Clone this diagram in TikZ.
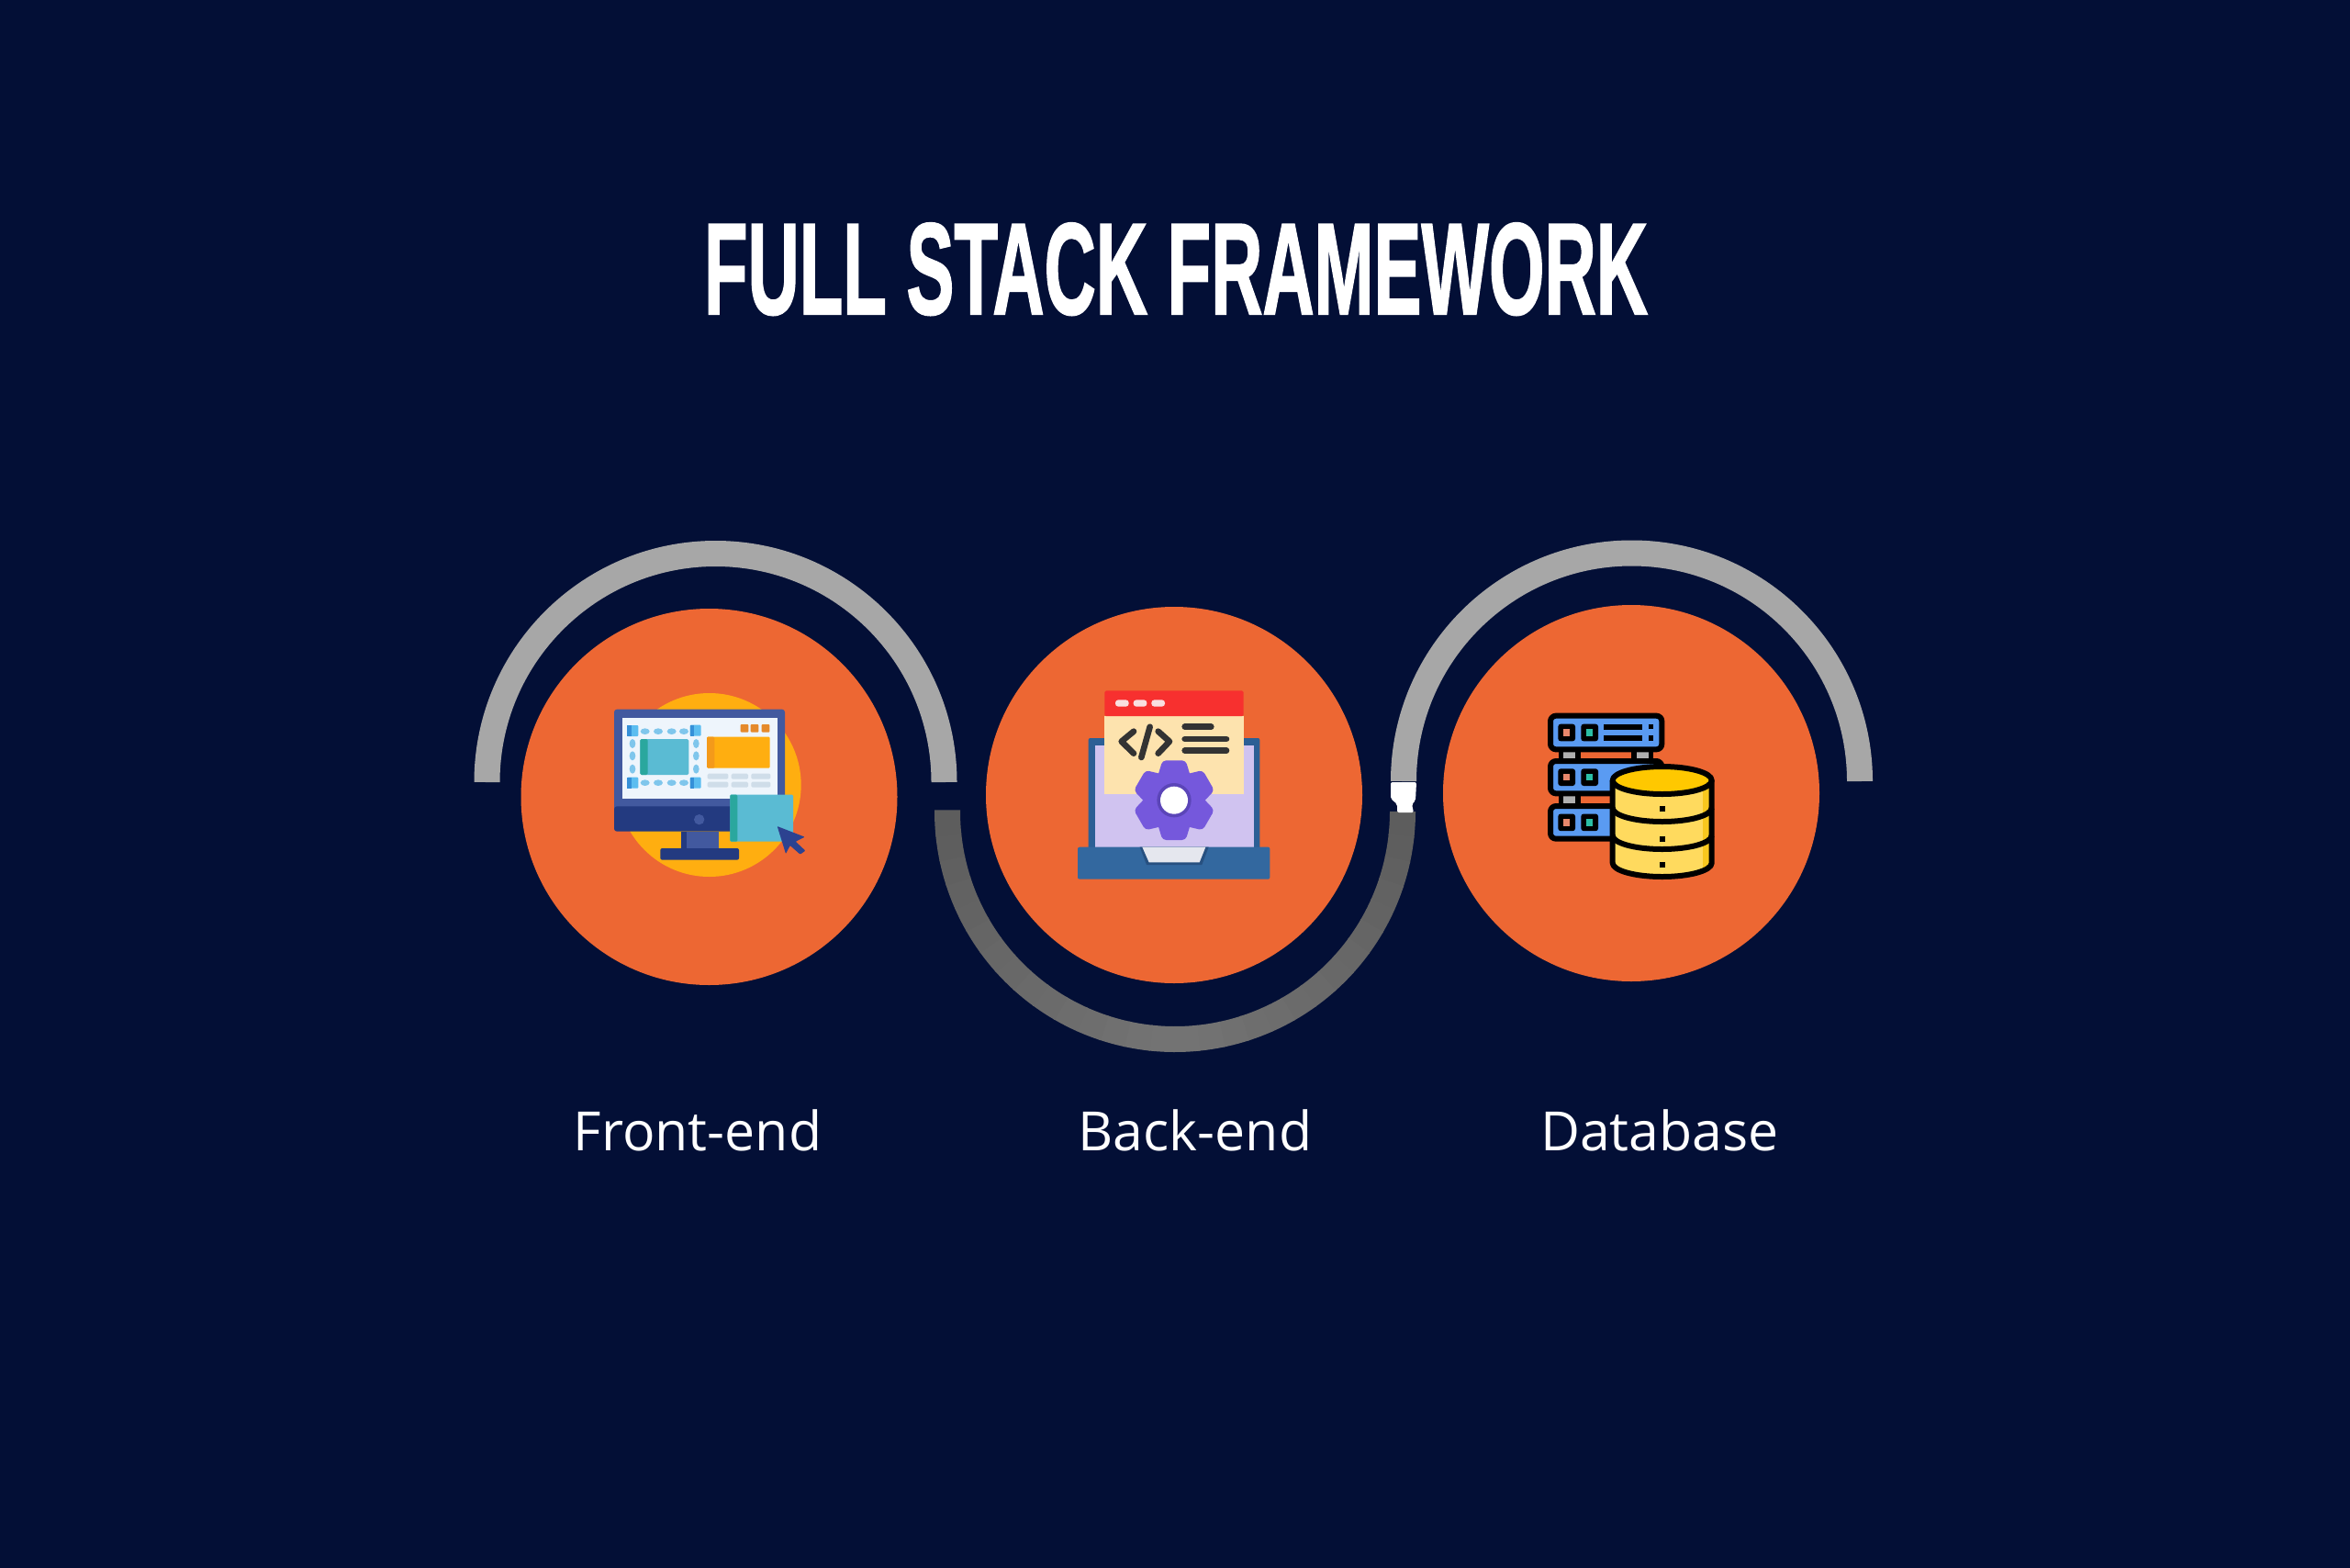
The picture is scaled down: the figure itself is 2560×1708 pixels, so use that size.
\documentclass[tikz,border=0pt]{standalone}
\usepackage{fontspec}
\setmainfont{Open Sans}
\newfontfamily\titlefont[FakeBold=1.6]{Liberation Sans Bold}
\usetikzlibrary{calc}
\definecolor{bgnavy}{HTML}{030F36}
\definecolor{discorange}{HTML}{ED6733}
\definecolor{arclight}{HTML}{A7A7A7}
\definecolor{arcdark}{HTML}{5C5C5C}
\definecolor{arcmid}{HTML}{747474}
\definecolor{amber}{HTML}{FFAE10}
\definecolor{amberdark}{HTML}{F49A1A}
\definecolor{chipcol}{HTML}{E58A2B}
\definecolor{monblue}{HTML}{42599F}
\definecolor{mondark}{HTML}{233A80}
\definecolor{cursorblue}{HTML}{2C4290}
\definecolor{monscreen}{HTML}{EEF5FC}
\definecolor{skyblue}{HTML}{5BBDF0}
\definecolor{skydark}{HTML}{3590D8}
\definecolor{dashblue}{HTML}{7FC6EC}
\definecolor{tealbox}{HTML}{5ABBD3}
\definecolor{tealdark}{HTML}{2AA79E}
\definecolor{barblue}{HTML}{CFDDE9}
\definecolor{lapblue}{HTML}{33689F}
\definecolor{lapframe}{HTML}{2C5F95}
\definecolor{lapnotch}{HTML}{275080}
\definecolor{lapplate}{HTML}{E5E7EE}
\definecolor{lilac}{HTML}{D0C3F0}
\definecolor{winred}{HTML}{F7302F}
\definecolor{windot}{HTML}{F9E0E0}
\definecolor{wincream}{HTML}{FDE3AE}
\definecolor{codeink}{HTML}{333333}
\definecolor{gearpurple}{HTML}{7558DC}
\definecolor{gearring}{HTML}{5B45B8}
\definecolor{srvblue}{HTML}{5A9BF2}
\definecolor{srvgray}{HTML}{B0B0B0}
\definecolor{ledsalmon}{HTML}{E8876B}
\definecolor{ledteal}{HTML}{2BBFA5}
\definecolor{dbyellow}{HTML}{FFDA5E}
\definecolor{dbtop}{HTML}{FFC800}
\definecolor{dbshade}{HTML}{F8C71E}
\tikzset{
  disc/.style={circle,fill=discorange,draw=none,inner sep=0pt,minimum size=205pt},
  lbl/.style={text=white,font=\fontsize{29.5pt}{34pt}\selectfont,inner sep=0pt,anchor=base},
  heading/.style={text=white,inner sep=0pt,anchor=base},
  arcstroke/.style={line width=14pt,line cap=butt},
  zoomed/.style={x=0.166667pt,y=-0.166667pt},
  codeline/.style={draw=codeink,line width=3.3pt,line cap=round,line join=round},
  ink/.style={draw=black,line width=3pt,line join=round}
}
\begin{document}
\begin{tikzpicture}[x=0.5pt,y=-0.5pt]
\useasboundingbox (0,0) rectangle (2560,1708);
\fill[bgnavy] (0,0) rectangle (2560,1708);

\node[heading] (title) at (1281,342) {\resizebox{514pt}{49.5pt}{\titlefont FULL STACK FRAMEWORK}};

% arcs
\draw[arcstroke,arclight] (530.5,852) arc[start angle=180,end angle=360,radius=249];
\foreach \a in {0,6,...,174}{
  \pgfmathtruncatemacro{\mixpct}{min(100,abs(\a+3-90)*100/90)}
  \pgfmathsetmacro{\aend}{\a+6.4}
  \draw[arcstroke,color=arcdark!\mixpct!arcmid] ($(1280,884)+(\a:248)$) arc[start angle=\a,end angle=\aend,radius=248];
}
\draw[arcstroke,arclight] (1529,851) arc[start angle=180,end angle=360,radius=248.5];
\fill[white,rounded corners=1pt] (1515,852) -- (1543,852) -- (1542,872) -- (1538,876) -- (1540,885) -- (1522,885) -- (1522,876) -- (1515,870) -- cycle;

% discs
\node[disc] (front) at (772.5,868) {};
\node[disc] (back) at (1279,866) {};
\node[disc] (data) at (1777,864) {};

% labels
\node[lbl] (lfront) at (760,1253) {Front-end};
\node[lbl] (lback) at (1302,1253) {Back-end};
\node[lbl] (ldata) at (1808,1253) {Database};

% front-end icon
\begin{scope}[shift={(640,740)},zoomed]
  \fill[amber] (398,345) circle[radius=300];
  \fill[monblue,rounded corners=1.5pt] (87,98) rectangle (645,430);
  \fill[mondark,rounded corners=1.5pt] (87,415) rectangle (645,497);
  \fill[monscreen] (113,125) rectangle (620,390);
  \fill[monblue] (305,497) rectangle (430,552);
  \fill[mondark] (305,497) rectangle (325,552);
  \fill[mondark,rounded corners=1pt] (238,552) rectangle (495,590);
  \fill[monblue] (365,458) circle[radius=17];
  \fill[tealbox,rounded corners=.8pt] (172,195) rectangle (331,312);
  \fill[tealdark,rounded corners=.8pt] (172,195) rectangle (197,312);
  \foreach \px/\py in {148/168,353/167,148/338,353/338}{
    \fill[skyblue,rounded corners=.5pt] (\px-18,\py-18) rectangle (\px+18,\py+18);
    \fill[skydark] (\px-18,\py-18) rectangle (\px-4,\py+18);
  }
  \foreach \px in {188,231,275,315}{
    \fill[dashblue] (\px,170) ellipse[x radius=15,y radius=10];
    \fill[dashblue] (\px,338) ellipse[x radius=15,y radius=10];
  }
  \foreach \py in {210,250,293}{
    \fill[dashblue] (147,\py) ellipse[x radius=10,y radius=15];
    \fill[dashblue] (355,\py) ellipse[x radius=10,y radius=15];
  }
  \foreach \px in {513,546,582}{
    \fill[chipcol,rounded corners=.5pt] (\px-13,147) rectangle (\px+13,173);
  }
  \fill[amber,rounded corners=.6pt] (390,188) rectangle (596,290);
  \fill[amberdark,rounded corners=.6pt] (390,188) rectangle (415,290);
  \foreach \py in {317,344}{
    \foreach \xa/\xb in {392/460,470/525,535/598}{
      \fill[barblue,rounded corners=.7pt] (\xa,\py-9) rectangle (\xb,\py+9);
    }
  }
  \fill[tealbox,rounded corners=.6pt] (466,377) rectangle (672,530);
  \fill[tealdark,rounded corners=.6pt] (466,377) rectangle (490,530);
  \fill[cursorblue,rounded corners=.4pt] (620,480) -- (710,515) -- (680,530) -- (712,560) -- (695,572) -- (662,543) -- (648,570) -- cycle;
\end{scope}

% back-end icon
\begin{scope}[shift={(1150,730)},zoomed]
  \fill[lapframe,rounded corners=1pt] (107,222) rectangle (667,590);
  \fill[lilac] (128,245) rectangle (647,578);
  \fill[lapblue,rounded corners=1pt] (72,578) rectangle (700,683);
  \fill[lapnotch] (275,578) -- (500,578) -- (478,636) -- (297,636) -- cycle;
  \fill[lapplate] (283,578) -- (490,578) -- (470,628) -- (305,628) -- cycle;
  \fill[wincream] (160,150) rectangle (614,405);
  \fill[winred,rounded corners=.8pt] (160,67) rectangle (614,150);
  \foreach \px in {217,276,335}{
    \fill[windot,rounded corners=1.6pt] (\px-22,97) rectangle (\px+22,119);
  }
  \draw[codeline] (255,200) -- (215,233) -- (255,272);
  \draw[codeline] (308,185) -- (280,285);
  \draw[codeline] (335,200) -- (372,233) -- (335,272);
  \draw[codeline] (422,185) -- (508,185);
  \draw[codeline] (422,225) -- (558,225);
  \draw[codeline] (422,263) -- (558,263);
  \begin{scope}[shift={(387,425)}]
    \fill[gearpurple] (0,0) circle[radius=100];
    \foreach \a in {0,60,...,300}{
      \fill[gearpurple,rounded corners=2pt,rotate=\a] (-56,-70) -- (-38,-130) -- (38,-130) -- (56,-70) -- cycle;
    }
    \fill[gearring] (0,0) circle[radius=56];
    \fill[white] (0,0) circle[radius=45];
  \end{scope}
\end{scope}

% database icon
\begin{scope}[shift={(1670,760)},zoomed]
  \foreach \xa/\xb in {85/155,322/392}{
    \fill[black] (\xa,170) rectangle (\xb,205);
  }
  \fill[black] (85,315) rectangle (155,352);
  \fill[srvgray] (100,178) rectangle (138,198);
  \fill[srvgray] (338,178) rectangle (378,198);
  \fill[srvgray] (100,322) rectangle (138,345);
  \foreach \ya/\yb in {59/169,207/313,354/461}{
    \draw[ink,fill=srvblue,rounded corners=3pt] (57,\ya) rectangle (421,\yb);
    \pgfmathsetmacro{\ymid}{(\ya+\yb)/2}
    \foreach \px/\pc in {110/ledsalmon,185/ledteal}{
      \fill[black,rounded corners=1.4pt] (\px-28,\ymid-28) rectangle (\px+28,\ymid+28);
      \fill[\pc] (\px-11,\ymid-11) rectangle (\px+11,\ymid+11);
    }
  }
  \fill[black] (230,86) rectangle (358,104);
  \fill[black] (230,123) rectangle (358,141);
  \fill[black] (377,87) rectangle (393,103);
  \fill[black] (377,124) rectangle (393,140);
  % cylinder
  \path[fill=dbyellow] (260,270) -- (260,540) arc[start angle=180,end angle=0,x radius=162,y radius=45] -- (584,270) -- cycle;
  \fill[dbshade] (555,270) rectangle (578,560);
  \draw[ink] (260,270) -- (260,540) arc[start angle=180,end angle=0,x radius=162,y radius=45] -- (584,270);
  \draw[ink] (260,360) arc[start angle=180,end angle=0,x radius=162,y radius=45];
  \draw[ink] (260,450) arc[start angle=180,end angle=0,x radius=162,y radius=45];
  \draw[ink,fill=dbtop] (422,270) ellipse[x radius=162,y radius=45];
  \foreach \py in {362,462,545}{
    \fill[black] (413,\py-9) rectangle (431,\py+9);
  }
\end{scope}
\end{tikzpicture}
\end{document}
